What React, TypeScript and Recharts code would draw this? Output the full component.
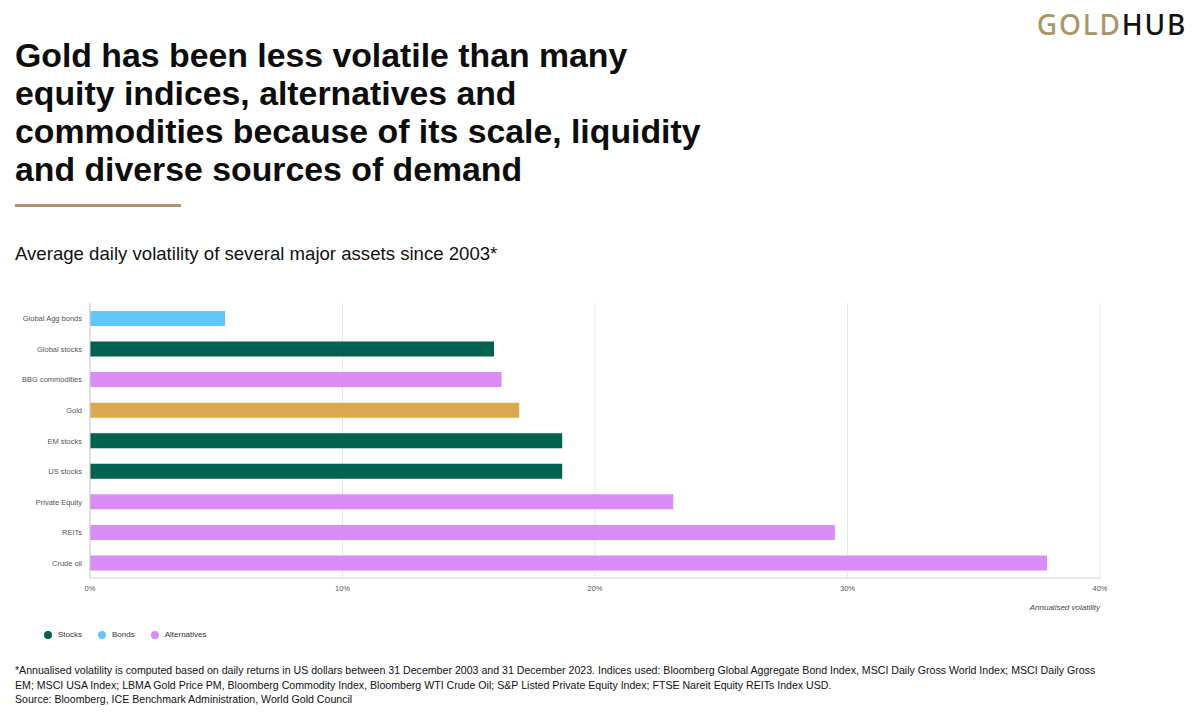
import { BarChart, Bar, XAxis, YAxis, CartesianGrid, Cell } from 'recharts';

// Asset classes, top to bottom
const assets = [
  'Global Agg bonds',
  'Global stocks',
  'BBG commodities',
  'Gold',
  'EM stocks',
  'US stocks',
  'Private Equity',
  'REITs',
  'Crude oil',
];

// Annualised volatility, %
const volatility = [5.35, 16.0, 16.3, 17.0, 18.7, 18.7, 23.1, 29.5, 37.9];

// Group of each asset (drives bar colour)
const groups = [
  'Bonds',
  'Stocks',
  'Alternatives',
  'Gold',
  'Stocks',
  'Stocks',
  'Alternatives',
  'Alternatives',
  'Alternatives',
];

const xTicks = [0, 10, 20, 30, 40];

const legendItems = ['Stocks', 'Bonds', 'Alternatives'];

const titleLines = [
  'Gold has been less volatile than many',
  'equity indices, alternatives and',
  'commodities because of its scale, liquidity',
  'and diverse sources of demand',
];

const footnoteLines = [
  '*Annualised volatility is computed based on daily returns in US dollars between 31 December 2003 and 31 December 2023. Indices used: Bloomberg Global Aggregate Bond Index, MSCI Daily Gross World Index; MSCI Daily Gross',
  'EM; MSCI USA Index; LBMA Gold Price PM, Bloomberg Commodity Index, Bloomberg WTI Crude Oil; S&P Listed Private Equity Index; FTSE Nareit Equity REITs Index USD.',
  'Source: Bloomberg, ICE Benchmark Administration, World Gold Council',
];

const groupColors: Record<string, string> = {
  Stocks: '#00634f',
  Bonds: '#62c5f8',
  Alternatives: '#da8cf6',
  Gold: '#d9aa4c',
};

const chartData = assets.map((name, i) => ({
  name,
  value: volatility[i],
  group: groups[i],
}));

const FONT = '"Liberation Sans", Arial, Helvetica, sans-serif';

// Single-line category label, right-aligned against the axis
const CategoryTick = ({ x, y, payload }: any) => (
  <text x={x} y={y} dy={3} textAnchor="end" fill="#555" fontSize={7.5} fontFamily={FONT}>
    {payload.value}
  </text>
);

// Axis title under the tick labels, flush with the right end of the axis
const AxisTitle = ({ viewBox }: any) => (
  <text
    x={viewBox.x + viewBox.width}
    y={viewBox.y + 32}
    textAnchor="end"
    fill="#444"
    fontSize={8}
    fontStyle="italic"
    fontFamily={FONT}
  >
    Annualised volatility
  </text>
);

const App = () => {
  return (
    <div
      style={{
        position: 'absolute',
        left: 0,
        top: 0,
        width: 1200,
        height: 718,
        background: '#fff',
        fontFamily: FONT,
        color: '#111',
        overflow: 'hidden',
      }}
    >
      {/* Logo */}
      <div
        style={{
          position: 'absolute',
          right: 13,
          top: 6,
          fontFamily: '"Noto Sans", sans-serif',
          fontSize: 28,
          fontWeight: 500,
          letterSpacing: 1.8,
          lineHeight: '36px',
        }}
      >
        <span style={{ color: '#a8966a' }}>GOLD</span>
        <span style={{ color: '#111' }}>HUB</span>
      </div>

      {/* Headline */}
      <div
        style={{
          position: 'absolute',
          left: 15,
          top: 36,
          fontSize: 33.8,
          fontWeight: 700,
          lineHeight: '38px',
          whiteSpace: 'nowrap',
          color: '#0d0d0d',
        }}
      >
        {titleLines.map((line) => (
          <div key={line}>{line}</div>
        ))}
      </div>
      <div style={{ position: 'absolute', left: 15, top: 204, width: 166, height: 3, background: '#a8966a' }} />

      {/* Subtitle */}
      <div style={{ position: 'absolute', left: 15, top: 243, fontSize: 18.6, color: '#111', whiteSpace: 'nowrap' }}>
        Average daily volatility of several major assets since 2003*
      </div>

      <div style={{ position: 'absolute', left: 0, top: 290 }}>
        <BarChart
          width={1120}
          height={330}
          data={chartData}
          layout="vertical"
          margin={{ top: 13, right: 20, left: 0, bottom: 0 }}
          barCategoryGap={0}
        >
          <CartesianGrid horizontal={false} stroke="#e8e8e8" />
          <XAxis
            type="number"
            domain={[0, 40]}
            ticks={xTicks}
            tickFormatter={(v: number) => `${v}%`}
            height={42}
            axisLine={{ stroke: '#cfcfcf' }}
            tickLine={false}
            tick={{ fill: '#555', fontSize: 7.5, fontFamily: FONT }}
            label={AxisTitle}
          />
          <YAxis
            type="category"
            dataKey="name"
            width={90}
            axisLine={{ stroke: '#cfcfcf' }}
            tickLine={false}
            tickMargin={2}
            interval={0}
            tick={<CategoryTick />}
          />
          <Bar dataKey="value" barSize={15} isAnimationActive={false}>
            {chartData.map((d) => (
              <Cell key={d.name} fill={groupColors[d.group]} />
            ))}
          </Bar>
        </BarChart>
      </div>

      {/* Legend */}
      <div
        style={{
          position: 'absolute',
          left: 44,
          top: 630,
          display: 'flex',
          alignItems: 'center',
          fontSize: 8,
          color: '#333',
        }}
      >
        {legendItems.map((item) => (
          <div key={item} style={{ display: 'flex', alignItems: 'center', marginRight: 16 }}>
            <span
              style={{
                display: 'inline-block',
                width: 8,
                height: 8,
                borderRadius: '50%',
                background: groupColors[item],
                marginRight: 6,
              }}
            />
            {item}
          </div>
        ))}
      </div>

      {/* Footnote */}
      <div
        style={{
          position: 'absolute',
          left: 15,
          top: 663,
          fontSize: 10.6,
          lineHeight: '14.5px',
          whiteSpace: 'nowrap',
          color: '#111',
        }}
      >
        {footnoteLines.map((line) => (
          <div key={line}>{line}</div>
        ))}
      </div>
    </div>
  );
};

export default App;
